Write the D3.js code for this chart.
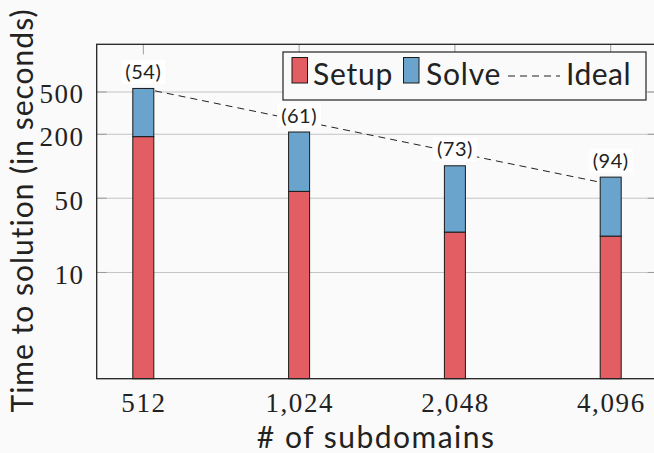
<!DOCTYPE html>
<html>
<head>
<meta charset="utf-8">
<script src="https://cdn.jsdelivr.net/npm/d3@7"></script>
<style>
  body { margin: 0; background: #fafafa; }
  svg { display: block; }
</style>
</head>
<body>
<div id="chart"></div>
<script>
// dane
const subdomains = [512, 1024, 2048, 4096];
const setupTime = [190, 58, 24, 22];
const solveTime = [350, 152, 77, 57];
const iterations = [54, 61, 73, 94];
const yTicks = [10, 50, 200, 500];
const seriesNames = ['Setup', 'Solve'];
const seriesColors = ['#e25e63', '#6aa3cc'];

const width = 654;
const height = 453;
const frame = { left: 96.7, right: 657.7, top: 44.3, bottom: 378.7 };

const rows = subdomains.map((n, i) => ({ n: n, Setup: setupTime[i], Solve: solveTime[i] }));
const stacked = d3.stack().keys(seriesNames)(rows);
const totals = rows.map(d => d.Setup + d.Solve);
const ideal = subdomains.map(n => totals[0] * subdomains[0] / n);

const svg = d3.select('#chart').append('svg')
  .attr('width', width)
  .attr('height', height);

svg.append('rect').attr('width', width).attr('height', height).attr('fill', '#fafafa');

// skale
const x = d3.scaleLog().base(2)
  .domain([512, 4096])
  .range([143.3, 610.7]);

const y = d3.scaleLog()
  .domain([1, 1406])
  .range([frame.bottom, frame.top]);

const barW = 21;

// siatka
svg.append('g')
  .selectAll('line')
  .data(yTicks)
  .join('line')
  .attr('x1', frame.left).attr('x2', frame.right)
  .attr('y1', d => y(d)).attr('y2', d => y(d))
  .attr('stroke', '#c4c4c4').attr('stroke-width', 1);

// znaczniki osi (do srodka)
const tickG = svg.append('g').attr('stroke', '#9a9a9a').attr('stroke-width', 1);
yTicks.forEach(t => {
  tickG.append('line').attr('x1', frame.left).attr('x2', frame.left + 10).attr('y1', y(t)).attr('y2', y(t));
  tickG.append('line').attr('x1', frame.right - 10).attr('x2', frame.right).attr('y1', y(t)).attr('y2', y(t));
});
subdomains.forEach(n => {
  tickG.append('line').attr('x1', x(n)).attr('x2', x(n)).attr('y1', frame.top).attr('y2', frame.top + 10);
  tickG.append('line').attr('x1', x(n)).attr('x2', x(n)).attr('y1', frame.bottom - 10).attr('y2', frame.bottom);
});

// linia idealna
svg.append('path')
  .datum(ideal)
  .attr('fill', 'none')
  .attr('stroke', '#222')
  .attr('stroke-width', 1)
  .attr('stroke-dasharray', '7,5')
  .attr('d', d3.line().x((d, i) => x(subdomains[i])).y(d => y(d)));

// slupki
svg.append('g')
  .selectAll('g')
  .data(stacked)
  .join('g')
  .attr('fill', (d, i) => seriesColors[i])
  .selectAll('rect')
  .data(d => d)
  .join('rect')
  .attr('x', d => x(d.data.n) - barW / 2)
  .attr('y', d => y(d[1]))
  .attr('width', barW)
  .attr('height', d => y(Math.max(d[0], 1)) - y(d[1]))
  .attr('stroke', '#1a1a1a')
  .attr('stroke-width', 1);

// etykiety z liczba iteracji
const lab = svg.append('g')
  .selectAll('g')
  .data(iterations)
  .join('g')
  .attr('transform', (d, i) => `translate(${x(subdomains[i])},${y(totals[i]) - 16.5})`);
lab.append('rect')
  .attr('x', -22).attr('y', -12).attr('width', 44).attr('height', 24)
  .attr('fill', '#fff');
lab.append('text')
  .attr('text-anchor', 'middle')
  .attr('dy', '0.35em')
  .attr('font-family', 'Lato')
  .attr('font-size', 20)
  .attr('letter-spacing', 0.5)
  .attr('fill', '#222')
  .text(d => `(${d})`);

// ramka
svg.append('rect')
  .attr('x', frame.left).attr('y', frame.top)
  .attr('width', frame.right - frame.left).attr('height', frame.bottom - frame.top)
  .attr('fill', 'none').attr('stroke', '#222').attr('stroke-width', 1.3);

// etykiety osi Y
svg.append('g')
  .selectAll('text')
  .data(yTicks)
  .join('text')
  .attr('x', 84.5)
  .attr('y', d => y(d) + 11.5)
  .attr('text-anchor', 'end')
  .attr('font-family', 'Liberation Serif')
  .attr('font-size', 27)
  .attr('letter-spacing', 1.5)
  .attr('fill', '#222')
  .text(d => d);

// etykiety osi X
svg.append('g')
  .selectAll('text')
  .data(subdomains)
  .join('text')
  .attr('x', d => x(d) + 0.7)
  .attr('y', 412)
  .attr('text-anchor', 'middle')
  .attr('font-family', 'Liberation Serif')
  .attr('font-size', 27)
  .attr('letter-spacing', 1.6)
  .attr('fill', '#222')
  .text(d => d3.format(',')(d));

// tytuly osi
svg.append('text')
  .attr('x', (frame.left + frame.right) / 2 - 1)
  .attr('y', 448)
  .attr('text-anchor', 'middle')
  .attr('font-family', 'Lato')
  .attr('font-size', 30)
  .attr('letter-spacing', 1.5)
  .attr('fill', '#222')
  .text('# of subdomains');

svg.append('text')
  .attr('transform', 'translate(33,210.5) rotate(-90)')
  .attr('text-anchor', 'middle')
  .attr('font-family', 'Lato')
  .attr('font-size', 30)
  .attr('letter-spacing', 1)
  .attr('fill', '#222')
  .text('Time to solution (in seconds)');

// legenda
const leg = svg.append('g');
leg.append('rect')
  .attr('x', 283).attr('y', 52).attr('width', 363).attr('height', 48)
  .attr('fill', '#fafafa').attr('stroke', '#222').attr('stroke-width', 1.2);
const legItems = [
  { name: 'Setup', color: seriesColors[0], sx: 292, tx: 313 },
  { name: 'Solve', color: seriesColors[1], sx: 403.5, tx: 426 }
];
legItems.forEach(it => {
  leg.append('rect').attr('x', it.sx).attr('y', 57.5).attr('width', 15.5).attr('height', 25.5)
    .attr('fill', it.color).attr('stroke', '#1a1a1a').attr('stroke-width', 1);
  leg.append('text').attr('x', it.tx).attr('y', 85)
    .attr('font-family', 'Lato').attr('font-size', 30).attr('letter-spacing', 0.8)
    .attr('fill', '#222').text(it.name);
});
leg.append('line').attr('x1', 508).attr('x2', 560).attr('y1', 76).attr('y2', 76)
  .attr('stroke', '#222').attr('stroke-width', 1).attr('stroke-dasharray', '7,5');
leg.append('text').attr('x', 566).attr('y', 85)
  .attr('font-family', 'Lato').attr('font-size', 30).attr('letter-spacing', 0.5)
  .attr('fill', '#222').text('Ideal');
</script>
</body>
</html>
